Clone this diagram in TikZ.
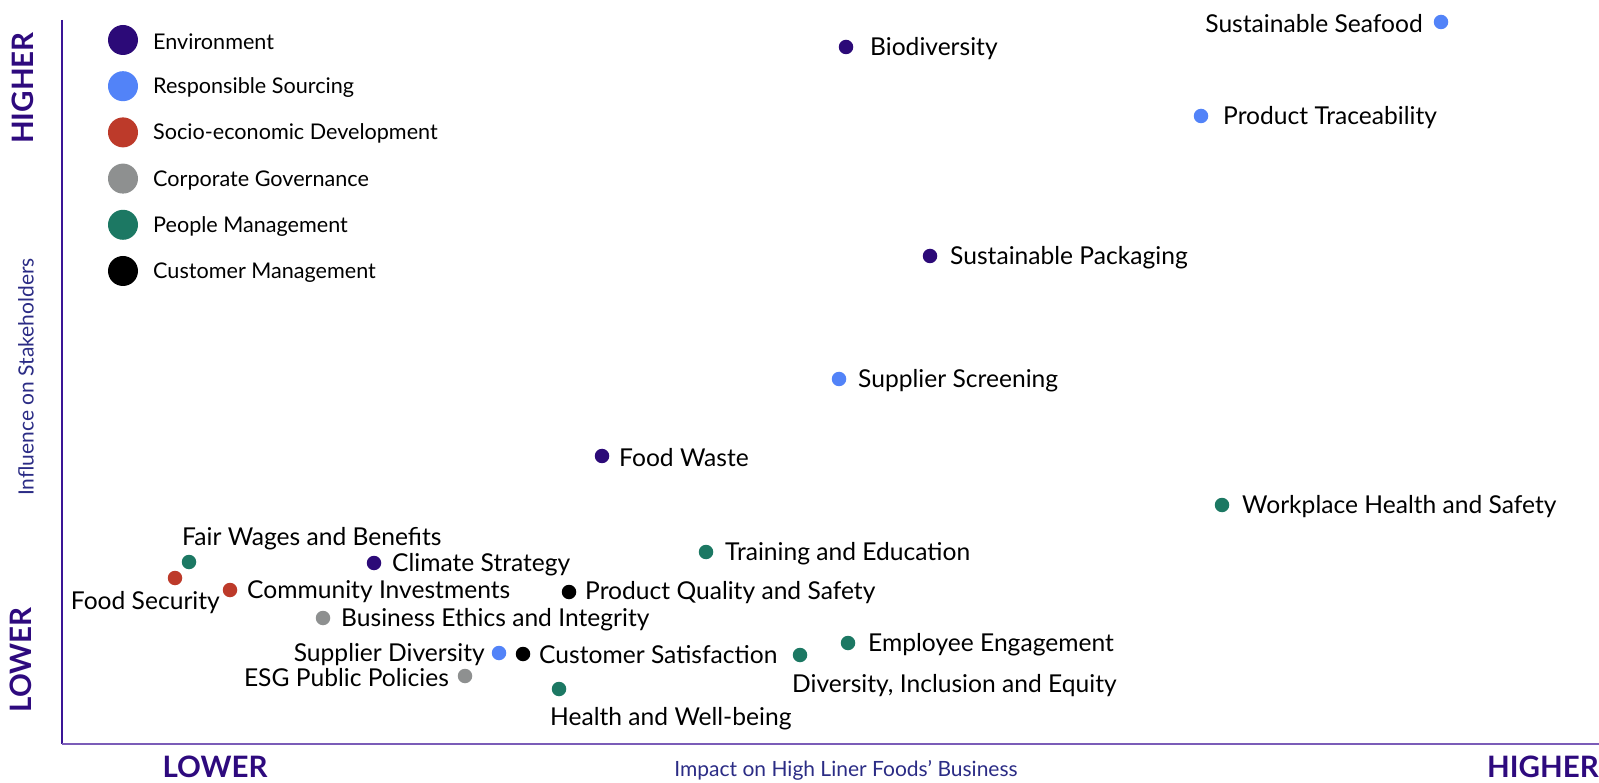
\documentclass[tikz,border=0pt]{standalone}
\usepackage{fontspec}
\setmainfont{Lato}
\definecolor{envc}{HTML}{2C0A78}
\definecolor{srcc}{HTML}{5283F8}
\definecolor{secc}{HTML}{BD3A2A}
\definecolor{govc}{HTML}{8E9090}
\definecolor{pplc}{HTML}{1C7863}
\definecolor{cusc}{HTML}{000000}
\definecolor{axisv}{HTML}{3A1596}
\definecolor{axish}{HTML}{7B5CB8}
\definecolor{axword}{HTML}{2E0A7E}
\definecolor{axtitle}{HTML}{2B2C85}
\begin{document}
\begin{tikzpicture}[x=1pt,y=-1pt,
  dot/.style={circle,inner sep=0pt,minimum size=14.5pt},
  legdot/.style={circle,inner sep=0pt,minimum size=30pt},
  lab/.style={inner sep=0pt,yshift=-2pt,font=\fontsize{24.6}{28}\selectfont,text=black},
  leglab/.style={inner sep=0pt,yshift=-1.5pt,anchor=west,font=\fontsize{21.6}{25}\selectfont,text=black},
  axword/.style={inner sep=0pt,font=\fontsize{29.5}{33}\selectfont\bfseries,text=axword},
  axtitle/.style={inner sep=0pt,font=\fontsize{21}{25}\selectfont,text=axtitle},
  env/.style={fill=envc},src/.style={fill=srcc},sec/.style={fill=secc},
  gov/.style={fill=govc},ppl/.style={fill=pplc},cus/.style={fill=cusc}]
\useasboundingbox (0,0) rectangle (1599,783);
% axes
\coordinate (top) at (62,20);
\coordinate (origin) at (62,744);
\coordinate (right) at (1599,744);
\draw[axisv,line width=1.6pt] (top) -- (origin);
\draw[axish,line width=2pt] (origin) -- (right);
% axis words
\node[axword,rotate=90] (yhigh) at (23,88) {HIGHER};
\node[axword,rotate=90] (ylow) at (21,660) {LOWER};
\node[axtitle,rotate=90] (ytitle) at (26,377) {Influence on Stakeholders};
\node[axword] (xlow) at (215,767) {LOWER};
\node[axword] (xhigh) at (1543,767) {HIGHER};
\node[axtitle] (xtitle) at (846,770) {Impact on High Liner Foods’ Business};
% legend
\node[legdot,env] (l1) at (123,40) {}; \node[leglab] (l1t) at (153,40) {Environment};
\node[legdot,src] (l2) at (123,86.2) {}; \node[leglab] (l2t) at (153,86.2) {Responsible Sourcing};
\node[legdot,sec] (l3) at (123,132.4) {}; \node[leglab] (l3t) at (153,132.4) {Socio-economic Development};
\node[legdot,gov] (l4) at (123,178.6) {}; \node[leglab] (l4t) at (153,178.6) {Corporate Governance};
\node[legdot,ppl] (l5) at (123,224.8) {}; \node[leglab] (l5t) at (153,224.8) {People Management};
\node[legdot,cus] (l6) at (123,271) {}; \node[leglab] (l6t) at (153,271) {Customer Management};
% points
\node[dot,env] (bio) at (846,47) {};
\node[lab,anchor=west] (biot) at (870,47) {Biodiversity};
\node[dot,src] (seaf) at (1441,22) {};
\node[lab,anchor=east] (seaft) at (1423,22) {Sustainable Seafood};
\node[dot,src] (trace) at (1201,116) {};
\node[lab,anchor=west] (tracet) at (1223,116) {Product Traceability};
\node[dot,env] (pack) at (930,256) {};
\node[lab,anchor=west] (packt) at (950,256) {Sustainable Packaging};
\node[dot,src] (scr) at (839,379) {};
\node[lab,anchor=west] (scrt) at (858,379) {Supplier Screening};
\node[dot,env] (waste) at (602,456) {};
\node[lab,anchor=west] (wastet) at (619,456) {Food Waste};
\node[dot,ppl] (whs) at (1222,505) {};
\node[lab,anchor=west] (whst) at (1242,505) {Workplace Health and Safety};
\node[dot,ppl] (train) at (706,552) {};
\node[lab,anchor=west] (traint) at (725,552) {Training and Education};
\node[dot,ppl] (fair) at (189,562) {};
\node[lab,anchor=west] (fairt) at (182,537) {Fair Wages and Benefits};
\node[dot,sec] (fsec) at (175,578) {};
\node[lab,anchor=east] (fsect) at (220,601) {Food Security};
\node[dot,env] (clim) at (374,563) {};
\node[lab,anchor=west] (climt) at (392,563) {Climate Strategy};
\node[dot,sec] (comm) at (230,590) {};
\node[lab,anchor=west] (commt) at (247,590) {Community Investments};
\node[dot,cus] (pqs) at (569,592) {};
\node[lab,anchor=west] (pqst) at (585,591) {Product Quality and Safety};
\node[dot,gov] (ethic) at (323,618) {};
\node[lab,anchor=west] (ethict) at (341,618) {Business Ethics and Integrity};
\node[dot,ppl] (engage) at (848,643) {};
\node[lab,anchor=west] (engaget) at (868,643) {Employee Engagement};
\node[dot,src] (sdiv) at (499,653) {};
\node[lab,anchor=east] (sdivt) at (485,653) {Supplier Diversity};
\node[dot,cus] (csat) at (523,654) {};
\node[lab,anchor=west] (csatt) at (539,653) {Customer Satisfaction};
\node[dot,ppl] (die) at (800,655) {};
\node[lab,anchor=west] (diet) at (792,684) {Diversity, Inclusion and Equity};
\node[dot,gov] (esg) at (465,676) {};
\node[lab,anchor=east] (esgt) at (449,676) {ESG Public Policies};
\node[dot,ppl] (health) at (559,689) {};
\node[lab,anchor=west] (healtht) at (550,717) {Health and Well-being};
\end{tikzpicture}
\end{document}
